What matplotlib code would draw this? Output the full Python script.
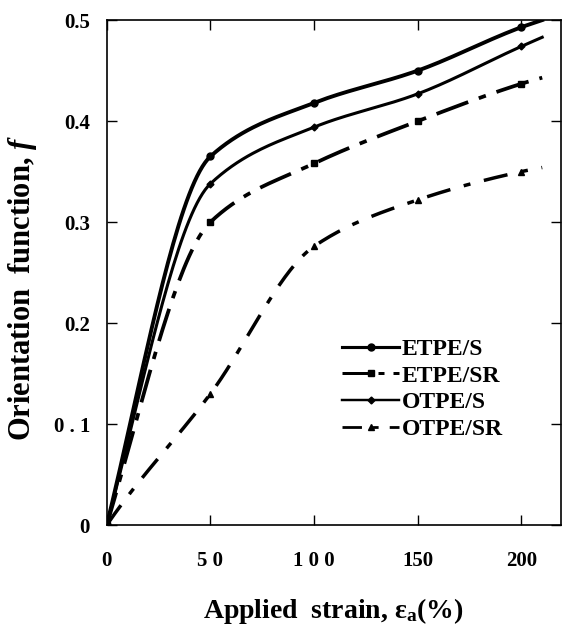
import numpy as np
import matplotlib.pyplot as plt

# -----------------------------
# Data
# -----------------------------
strain = [0, 50, 100, 150, 200, 210]
etpe_s = [0, 0.365, 0.418, 0.450, 0.493, 0.500]
etpe_sr = [0, 0.300, 0.358, 0.400, 0.437, 0.443]
otpe_s = [0, 0.338, 0.394, 0.427, 0.474, 0.483]
otpe_sr = [0, 0.130, 0.276, 0.322, 0.350, 0.354]

x_ticks = [0, 50, 100, 150, 200]
x_ticklabels = ['0', '5 0', '1 0 0', '150', '200']
y_ticks = [0, 0.1, 0.2, 0.3, 0.4, 0.5]
y_ticklabels = ['0', '0 . 1', '0.2', '0.3', '0.4', '0.5']


def smooth(x, y, n=40):
    # monotone cubic (pchip-like) curve through the points
    x = np.asarray(x, float)
    y = np.asarray(y, float)
    h = np.diff(x)
    d = np.diff(y) / h
    m = np.empty_like(y)
    m[0] = d[0] * 1.15
    m[-1] = d[-1]
    for i in range(1, len(y) - 1):
        if d[i - 1] * d[i] <= 0:
            m[i] = 0
        else:
            w1 = 2 * h[i] + h[i - 1]
            w2 = h[i] + 2 * h[i - 1]
            m[i] = (w1 + w2) / (w1 / d[i - 1] + w2 / d[i])
    xs, ys = [], []
    t = np.linspace(0, 1, n)
    for i in range(len(d)):
        xs.extend(x[i] + t * h[i])
        ys.extend((2 * t**3 - 3 * t**2 + 1) * y[i] + (t**3 - 2 * t**2 + t) * h[i] * m[i]
                  + (-2 * t**3 + 3 * t**2) * y[i + 1] + (t**3 - t**2) * h[i] * m[i + 1])
    return np.array(xs), np.array(ys)


plt.rcParams['font.family'] = 'Liberation Serif'
plt.rcParams['font.weight'] = 'bold'
plt.rcParams['mathtext.fontset'] = 'custom'
plt.rcParams['mathtext.it'] = 'Liberation Serif:italic'
plt.rcParams['mathtext.rm'] = 'Liberation Serif:bold'

fig = plt.figure(figsize=(5.62, 6.28), dpi=100)
ax = fig.add_axes([0.19, 0.164, 0.808, 0.804])

series = [
    ('ETPE/S', etpe_s, '-', 'o', 2.8, 5),
    ('ETPE/SR', etpe_sr, (0, (9, 3, 2, 3)), 's', 2.7, 5),
    ('OTPE/S', otpe_s, '-', 'D', 2.2, 3.5),
    ('OTPE/SR', otpe_sr, (0, (7, 4, 2, 4)), '^', 2.5, 5),
]

for name, vals, ls, mk, lw, ms in series:
    sx, sy = smooth(strain, vals)
    ax.plot(sx, sy, color='black', linestyle=ls, linewidth=lw)
    ax.plot(strain[:5], vals[:5], linestyle='none', marker=mk, color='black',
            markersize=ms)
    ax.plot([], [], color='black', linestyle=ls, linewidth=lw * 0.8,
            marker=mk, markersize=ms, label=name)

ax.set_xlim(0, 219)
ax.set_ylim(0, 0.5)
ax.set_xticks(x_ticks)
ax.set_xticklabels(x_ticklabels)
ax.set_yticks(y_ticks)
ax.set_yticklabels(y_ticklabels)
ax.tick_params(direction='in', top=True, right=True, length=7, width=1,
               labelsize=15)
ax.tick_params(axis='x', pad=19)
ax.tick_params(axis='y', pad=12)
for s in ax.spines.values():
    s.set_linewidth(1.2)

ax.set_xlabel(r'Applied  strain, $\mathregular{\varepsilon_a}$(%)', fontsize=20,
              fontweight='bold', labelpad=18)
ax.set_ylabel('Orientation  function, $f$', fontsize=22, fontweight='bold')
ax.yaxis.set_label_coords(-0.15, 0.47)

leg = ax.legend(loc='upper left', bbox_to_anchor=(0.493, 0.393), frameon=False,
                fontsize=17, handlelength=2.4, handletextpad=0.1,
                labelspacing=0.22, borderpad=0)

fig.savefig('out.png', dpi=100)
